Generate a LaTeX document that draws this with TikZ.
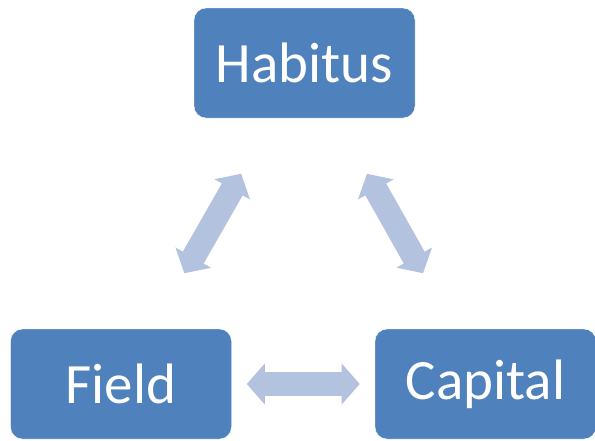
\documentclass[tikz,border=0pt]{standalone}
\usepackage{fontspec}
\setmainfont{Carlito}
\usetikzlibrary{arrows.meta,calc}
\definecolor{boxblue}{HTML}{4F81BD}
\definecolor{arrowblue}{HTML}{B3C3DF}

\begin{document}
\begin{tikzpicture}[x=1pt, y=-1pt,
  box/.style={draw=white, fill=boxblue, rounded corners=12pt, text=white,
    minimum width=221pt, minimum height=110pt, inner sep=0pt,
    font=\fontsize{57}{62}\selectfont},
  bigarrow/.style={draw=arrowblue, line width=24pt,
    {Triangle[length=18pt,width=40pt]}-{Triangle[length=18pt,width=40pt]}}]
\useasboundingbox (0,0) rectangle (595,440);

% the three boxes
\node[box] (habitus) at (304.5,63) {Habitus};
\node[box] (field) at (121,384) {Field};
\node[box] (capital) at (485.5,384) {Capital};

% arrows between them
\draw[bigarrow] ($(habitus)!0.345!(field)$) -- ($(habitus)!0.655!(field)$);
\draw[bigarrow] ($(habitus)!0.345!(capital)$) -- ($(habitus)!0.655!(capital)$);
\draw[bigarrow] ($(field)!0.345!(capital)$) -- ($(field)!0.655!(capital)$);
\end{tikzpicture}
\end{document}
